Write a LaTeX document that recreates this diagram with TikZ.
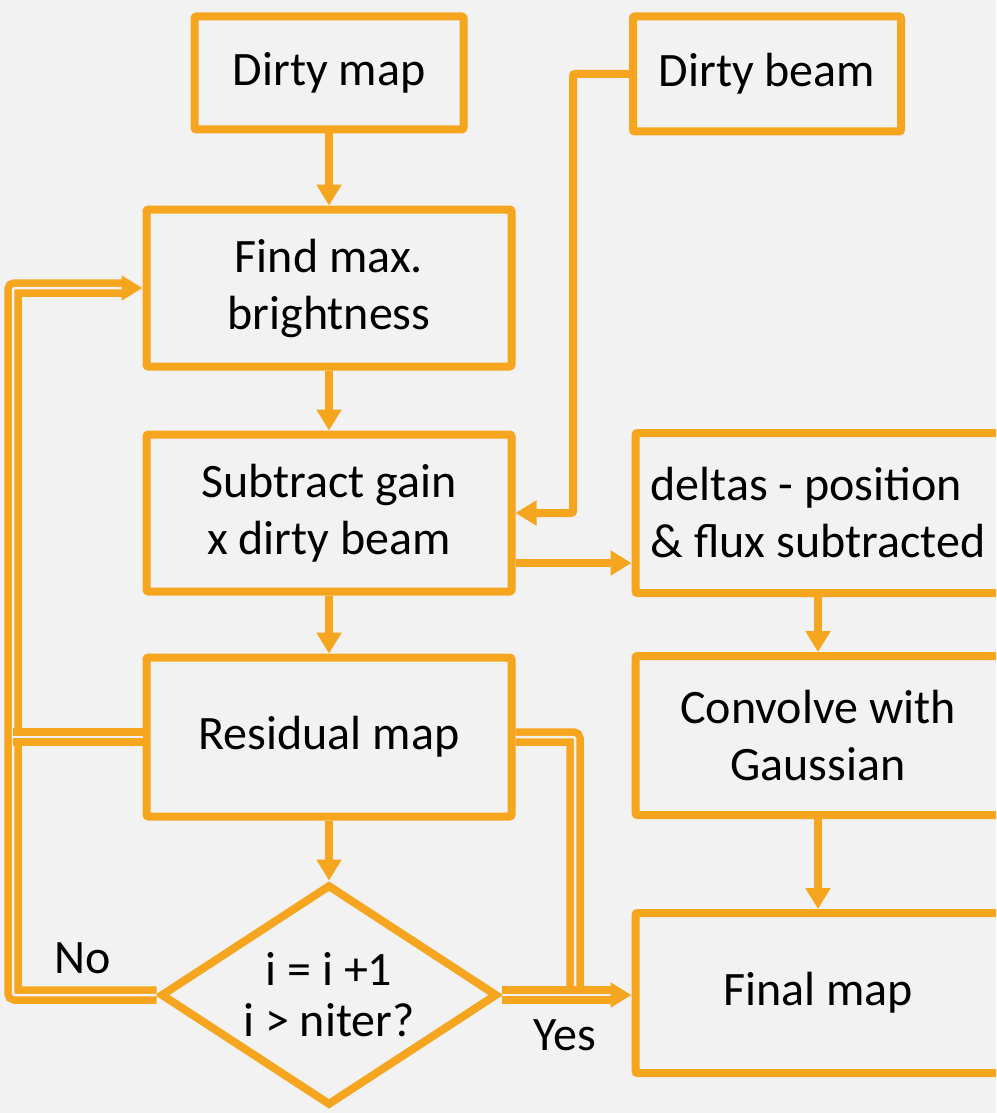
\documentclass[tikz,border=0pt]{standalone}
\usepackage{fontspec}
\setmainfont{Carlito}
\usetikzlibrary{positioning, calc, shapes.geometric, arrows.meta}
\definecolor{orng}{RGB}{246,165,30}
\definecolor{bgray}{RGB}{242,242,242}
\tikzstyle{Box} = [
draw=orng,
line width=8pt,
rounded corners=2pt,
inner sep=0pt,
align=center,
minimum width=365pt,
minimum height=157pt,
font=\fontsize{48}{57}\selectfont]
\tikzstyle{Decision} = [
diamond,
draw=orng,
line width=8pt,
inner sep=0pt,
aspect=1.52,
minimum width=337pt,
minimum height=221pt,
align=center,
font=\fontsize{48}{51}\selectfont]
\tikzstyle{Arrow} = [
orng,
line width=8pt,
-{Triangle[length=21pt, width=24pt]}]
\tikzstyle{Loop} = [
orng,
line width=7.5pt,
double=bgray,
double distance=2.5pt]

\begin{document}
\begin{tikzpicture}[x=1pt, y=-1pt]
    \fill[bgray] (0,0) rectangle (996,1113);
    \useasboundingbox (0,0) rectangle (996,1113);
    \clip (0,0) rectangle (996,1113);

    \node [Box, minimum width=269pt, minimum height=113pt] (dmap) at (329,73) {Dirty map};
    \node [Box, minimum width=268pt, minimum height=115pt] (beam) at (767,74) {Dirty beam};
    \node [Box, below =72pt of dmap] (find) {Find max.\\brightness};
    \node [Box, below =60pt of find] (sub) {Subtract gain\\x dirty beam};
    \node [Box, below =58pt of sub, minimum height=159pt] (res) {Residual map};
    \node [Decision] (dec) at (329,995) {i = i +1\\i > niter?};
    \node [Box, align=left, minimum height=160pt] (del) at (818,513) {deltas - position\\\& flux subtracted};
    \node [Box, below =55pt of del, minimum height=159pt] (conv) {Convolve with\\Gaussian};
    \node [Box, below =90pt of conv, minimum height=160pt] (fin) {Final map};
    \node [font=\fontsize{48}{57}\selectfont] (no) at (83,958) {No};
    \node [font=\fontsize{48}{57}\selectfont] (yes) at (565,1035) {Yes};

    \coordinate (lx) at (13,0);
    \coordinate (rx) at (575,0);
    \coordinate (bx) at (573,0);

    % loop back and exit
    \draw[Loop, rounded corners=2pt, -{Triangle[length=21pt, width=24pt]}] (dec.west) -| (lx |- find.west) -- (find.west);
    \draw[Loop] (res.west) -- (res.west -| lx);
    \draw[Loop, rounded corners=2pt] (res.east) -| (rx |- dec.east);
    \draw[Loop, -{Triangle[length=21pt, width=24pt]}] (dec.east) -- (dec.east -| fin.west);

    \draw[Arrow] (dmap) -- (find);
    \draw[Arrow] (find) -- (sub);
    \draw[Arrow] (sub) -- (res);
    \draw[Arrow] (res) -- (dec);
    \draw[Arrow, rounded corners=2pt] (beam.west) -| (bx |- sub.east) -- (sub.east);
    \draw[Arrow] ([yshift=-50pt]sub.east) -- ([yshift=-50pt]sub.east -| del.west);
    \draw[Arrow] (del) -- (conv);
    \draw[Arrow] (conv) -- (fin);
\end{tikzpicture}
\end{document}
